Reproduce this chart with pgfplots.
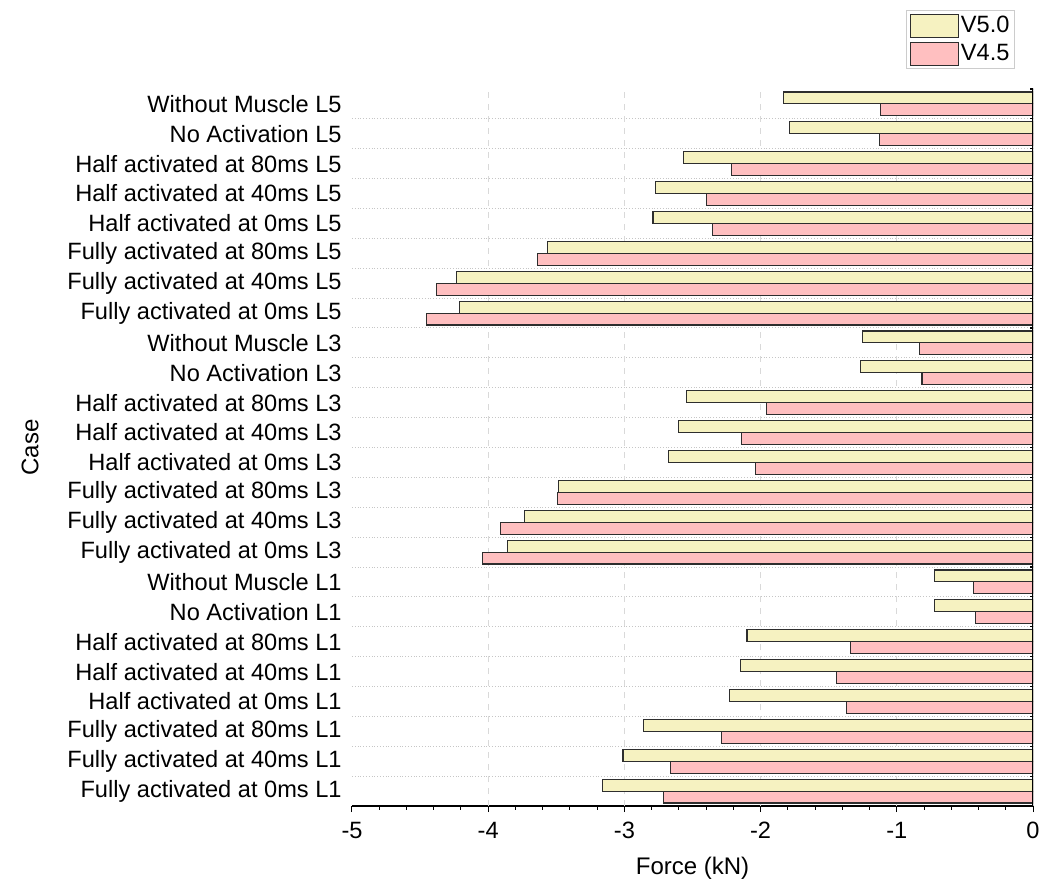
\documentclass[border=0pt]{standalone}
\usepackage{pgfplots}
\pgfplotsset{compat=1.18}
\usepackage{fontspec}
\setmainfont{Liberation Sans}
\definecolor{vyel}{HTML}{F6F2C1}
\definecolor{vpink}{HTML}{FFBFC0}
\definecolor{barline}{HTML}{2E2E2E}
\begin{document}
\fontsize{11.8}{13}\selectfont
\begin{tikzpicture}
\begin{axis}[
  scale only axis,
  width=340.5pt, height=358.5pt,
  xbar, bar width=0.4,
  xmin=-5, xmax=0,
  ymin=-0.5, ymax=23.5,
  separate axis lines,
  axis x line*=bottom,
  axis y line*=left,
  x axis line style={black, line width=0.6pt},
  y axis line style={draw=none},
  tick align=outside,
  major tick length=3pt,
  minor tick length=1.8pt,
  xtick style={black, line width=0.5pt},
  ytick style={draw=none},
  xtick={-5,-4,-3,-2,-1,0},
  xticklabels={-5,-4,-3,-2,-1,0},
  minor x tick num=4,
  extra x ticks={-4,-3,-2,-1},
  extra x tick labels={},
  extra x tick style={grid=major, major grid style={gray!30, dashed, line width=0.4pt}, tick style={draw=none}},
  ytick={0,...,23},
  yticklabels={
    Fully activated at 0ms L1, Fully activated at 40ms L1, Fully activated at 80ms L1,
    Half activated at 0ms L1, Half activated at 40ms L1, Half activated at 80ms L1,
    No Activation L1, Without Muscle L1,
    Fully activated at 0ms L3, Fully activated at 40ms L3, Fully activated at 80ms L3,
    Half activated at 0ms L3, Half activated at 40ms L3, Half activated at 80ms L3,
    No Activation L3, Without Muscle L3,
    Fully activated at 0ms L5, Fully activated at 40ms L5, Fully activated at 80ms L5,
    Half activated at 0ms L5, Half activated at 40ms L5, Half activated at 80ms L5,
    No Activation L5, Without Muscle L5},
  minor ytick={-0.5,0.5,...,22.5},
  yminorgrids=true,
  minor grid style={gray!45, densely dotted, line width=0.5pt},
  ticklabel style={font=\fontsize{11.8}{13}\selectfont},
  yticklabel style={inner sep=0pt, anchor=east, xshift=-2pt},
  xticklabel style={inner sep=0pt, anchor=north, yshift=-5pt},
  every axis x label/.style={at={(axis description cs:0.5,-0.0865)}, anchor=center, font=\fontsize{12}{13}\selectfont},
  every axis y label/.style={at={(axis description cs:-0.4728,0.5)}, anchor=center, rotate=90, font=\fontsize{12}{13}\selectfont},
  xlabel={Force (kN)},
  ylabel={Case},
  legend style={at={(0.9736,1.11)}, anchor=north east, draw=gray!40, line width=0.5pt,
    inner sep=1.5pt, row sep=2pt, font=\fontsize{11.8}{13}\selectfont,
    nodes={inner sep=1pt}},
  legend cell align=left,
]
\pgfplotstableread{
y v50 v45
0 -3.16 -2.71
1 -3.01 -2.66
2 -2.86 -2.29
3 -2.23 -1.37
4 -2.15 -1.44
5 -2.10 -1.34
6 -0.72 -0.42
7 -0.72 -0.435
8 -3.86 -4.04
9 -3.735 -3.91
10 -3.485 -3.49
11 -2.675 -2.035
12 -2.605 -2.14
13 -2.545 -1.955
14 -1.265 -0.815
15 -1.255 -0.835
16 -4.21 -4.45
17 -4.23 -4.38
18 -3.565 -3.635
19 -2.79 -2.35
20 -2.77 -2.40
21 -2.565 -2.215
22 -1.79 -1.125
23 -1.835 -1.12
}\datatable
\addplot[fill=vyel, draw=barline, line width=0.55pt, bar shift=0.2,
  legend image code/.code={\draw[fill=vyel, draw=barline, line width=0.55pt] (0pt,-5.75pt) rectangle (24pt,5.75pt);}]
  table[x=v50, y=y] {\datatable};
\addlegendentry{V5.0}
\addplot[fill=vpink, draw=barline, line width=0.55pt, bar shift=-0.2,
  legend image code/.code={\draw[fill=vpink, draw=barline, line width=0.55pt] (0pt,-5.75pt) rectangle (24pt,5.75pt);}]
  table[x=v45, y=y] {\datatable};
\addlegendentry{V4.5}
\draw[black, line width=0.6pt] (axis cs:0,-0.5) -- (axis cs:0,23.5);
\pgfplotsinvokeforeach{-0.5,0.5,1.5,2.5,3.5,4.5,5.5,6.5,7.5,8.5,9.5,10.5,11.5,12.5,13.5,14.5,15.5,16.5,17.5,18.5,19.5,20.5,21.5,22.5,23.5}{
  \draw[black, line width=0.6pt] ([xshift=-1.5pt]axis cs:0,#1) -- ([xshift=2pt]axis cs:0,#1);
}
\coordinate (SW) at (rel axis cs:0,0);
\coordinate (NE) at (rel axis cs:1,1);
\end{axis}
\pgfresetboundingbox
\path[use as bounding box] ([xshift=-176pt,yshift=-38.5pt]SW) rectangle ([xshift=5pt,yshift=44.5pt]NE);
\end{tikzpicture}
\end{document}
